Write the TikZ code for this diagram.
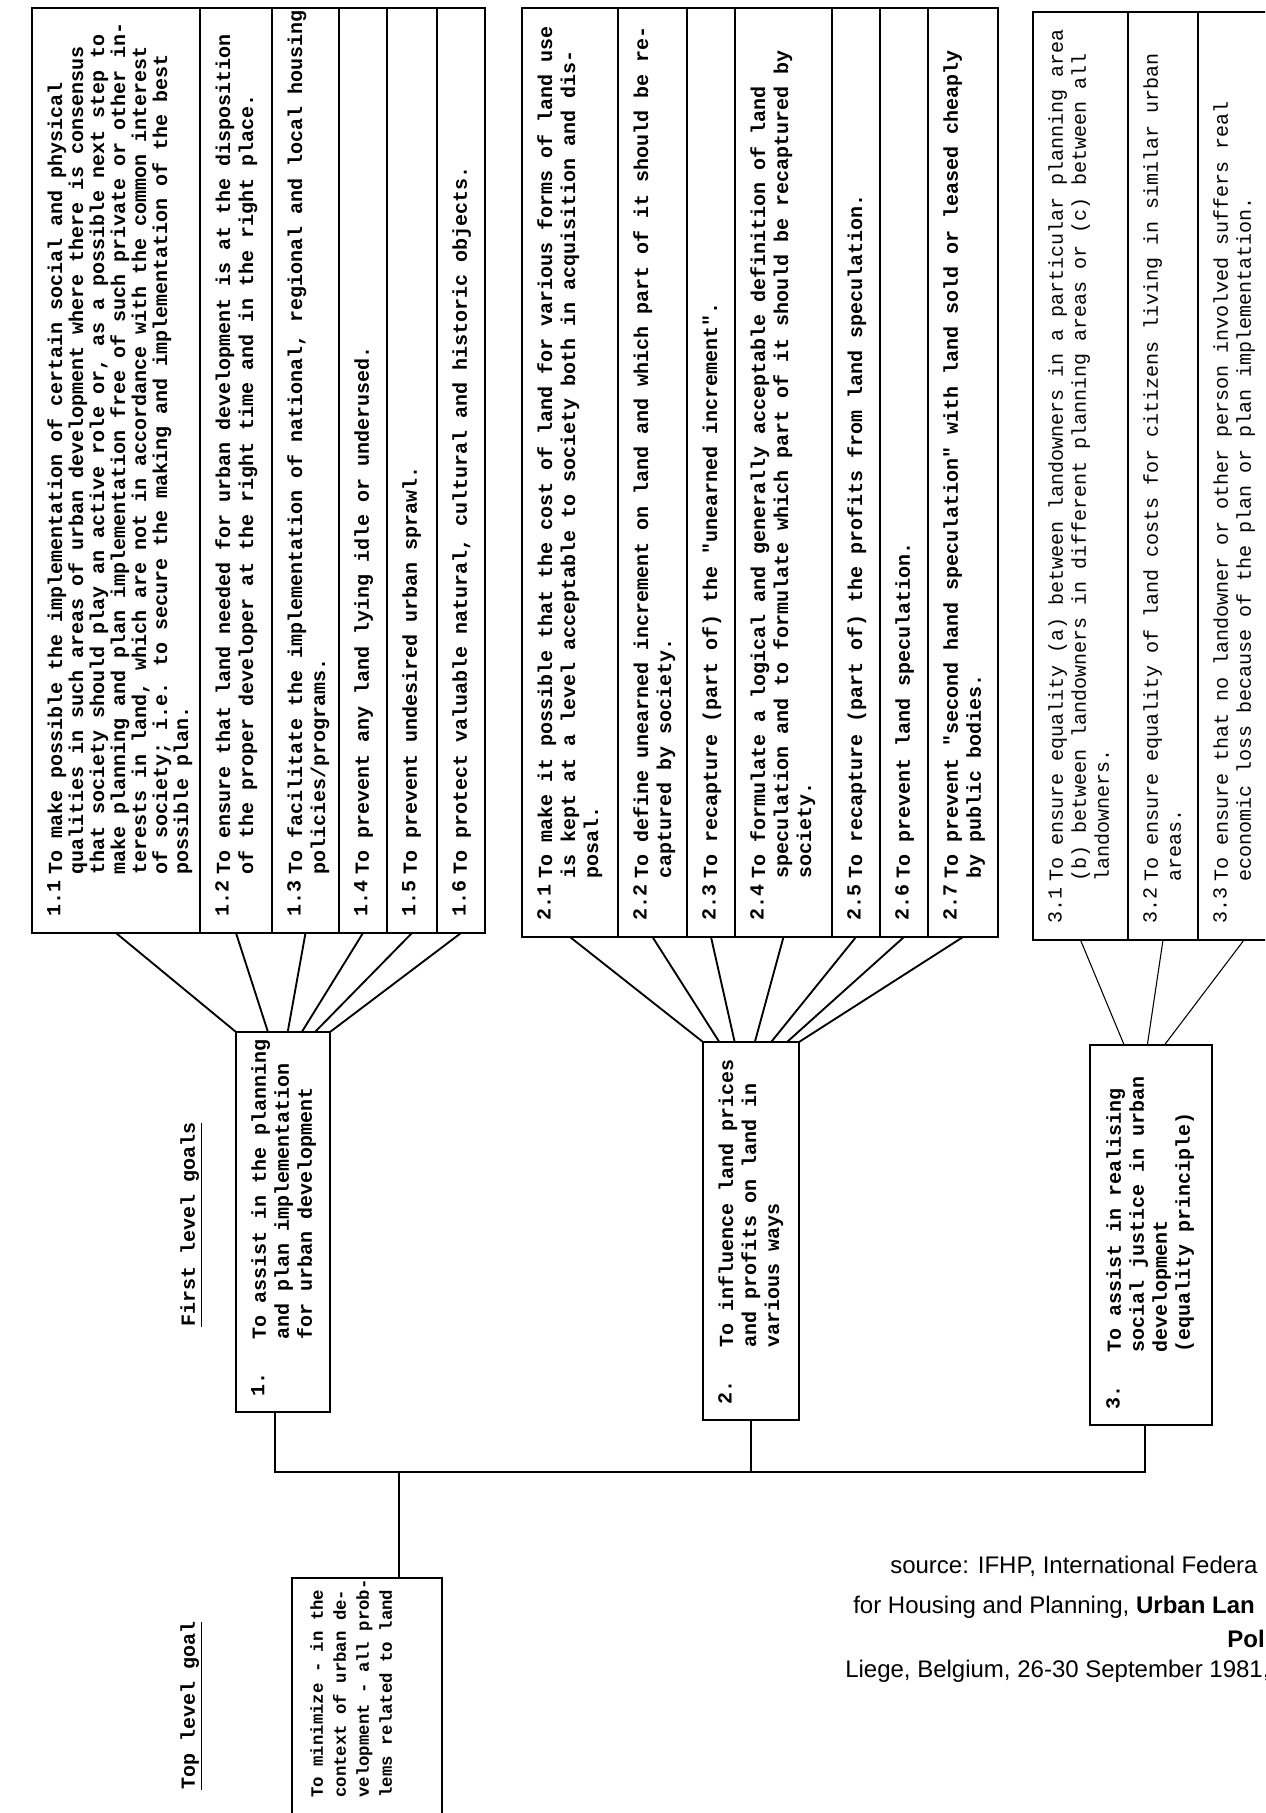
\documentclass[tikz,border=0pt]{standalone}
\usepackage{fontspec}
\setmainfont{Liberation Serif}
\newfontfamily\tw{Liberation Mono}
\newfontfamily\sans{Liberation Sans}
\usetikzlibrary{calc}
\def\gf{\bfseries}
\def\gls{17.25}
\newcommand\goalitem[7]{%
  \node[colbox, anchor=north west, minimum width={(#3-#2)*0.75pt}, minimum height={(#5-#4)*0.75pt}] (#1) at (#2,#4) {};
  \node[lbl] (#1l) at ({#2+15},{#5-16}) {#6};
  \node[txt] (#1t) at ({#2+15},{#5-58}) {#7};
}
\begin{document}
\begin{tikzpicture}[x=0.75pt,y=-0.75pt,
  colbox/.style={draw, line width=1.3pt, inner sep=0pt, outer sep=0pt},
  lbl/.style={rotate=90, anchor=north west, inner sep=0pt, font=\tw\gf\fontsize{15}{\gls}\selectfont},
  txt/.style={rotate=90, anchor=north west, inner sep=0pt, align=left, font=\tw\gf\fontsize{15}{\gls}\selectfont},
  toptxt/.style={rotate=90, anchor=north west, inner sep=0pt, align=left, font=\tw\bfseries\fontsize{13}{17.25}\selectfont},
  conn/.style={line width=1.4pt},
  thinconn/.style={line width=0.8pt},
  src/.style={anchor=base west, inner sep=0pt, font=\sans\fontsize{18}{20}\selectfont}
]
\useasboundingbox (0,0) rectangle (1265,1813);
\begin{scope}
\clip (0,0) rectangle (1265,1813);
% ---------- group 1 ----------
\def\gls{15.75}
\goalitem{c11}{32}{200}{8}{933}{1.1}{To make possible the implementation of certain social and physical\\
qualities in such areas of urban development where there is consensus\\
that society should play an active role or, as a possible next step to\\
make planning and plan implementation free of such private or other in-\\
terests in land, which are not in accordance with the common interest\\
of society; i.e. to secure the making and implementation of the best\\
possible plan.}
\def\gls{17.25}
\goalitem{c12}{200}{272}{8}{933}{1.2}{To ensure that land needed for urban development is at the disposition\\of the proper developer at the right time and in the right place.}
\goalitem{c13}{272}{339}{8}{933}{1.3}{To facilitate the implementation of national, regional and local housing\\policies/programs.}
\goalitem{c14}{339}{387}{8}{933}{1.4}{To prevent any land lying idle or underused.}
\goalitem{c15}{387}{437}{8}{933}{1.5}{To prevent undesired urban sprawl.}
\goalitem{c16}{437}{485}{8}{933}{1.6}{To protect valuable natural, cultural and historic objects.}
% ---------- group 2 ----------
\goalitem{c21}{522}{618}{8}{937}{2.1}{To make it possible that the cost of land for various forms of land use\\is kept at a level acceptable to society both in acquisition and dis-\\posal.}
\goalitem{c22}{618}{687}{8}{937}{2.2}{To define unearned increment on land and which part of it should be re-\\captured by society.}
\goalitem{c23}{687}{735}{8}{937}{2.3}{To recapture (part of) the "unearned increment".}
\goalitem{c24}{735}{832}{8}{937}{2.4}{To formulate a logical and generally acceptable definition of land\\speculation and to formulate which part of it should be recaptured by\\society.}
\goalitem{c25}{832}{880}{8}{937}{2.5}{To recapture (part of) the profits from land speculation.}
\goalitem{c26}{880}{928}{8}{937}{2.6}{To prevent land speculation.}
\goalitem{c27}{928}{998}{8}{937}{2.7}{To prevent "second hand speculation" with land sold or leased cheaply\\by public bodies.}
% ---------- group 3 ----------
\def\gf{\mdseries}
\goalitem{c31}{1033}{1128}{12}{940}{3.1}{To ensure equality (a) between landowners in a particular planning area\\(b) between landowners in different planning areas or (c) between all\\landowners.}
\goalitem{c32}{1128}{1198}{12}{940}{3.2}{To ensure equality of land costs for citizens living in similar urban\\areas.}
\goalitem{c33}{1198}{1290}{12}{940}{3.3}{To ensure that no landowner or other person involved suffers real\\economic loss because of the plan or plan implementation.}
\def\gf{\bfseries}
% ---------- first level ----------
\node[colbox, anchor=north west, minimum width={94*0.75pt}, minimum height={380*0.75pt}] (b1) at (236,1032) {};
\node[lbl] (b1l) at (251,1397) {1.};
\node[txt] (b1t) at (251,1340) {To assist in the planning\\and plan implementation\\for urban development};
\node[colbox, anchor=north west, minimum width={96*0.75pt}, minimum height={378*0.75pt}] (b2) at (703,1042) {};
\node[lbl] (b2l) at (718,1405) {2.};
\node[txt] (b2t) at (718,1348) {To influence land prices\\and profits on land in\\various ways};
\node[colbox, anchor=north west, minimum width={122*0.75pt}, minimum height={380*0.75pt}] (b3) at (1090,1045) {};
\node[lbl] (b3l) at (1106,1410) {3.};
\node[txt] (b3t) at (1106,1353) {To assist in realising\\social justice in urban\\development\\(equality principle)};
\node[lbl] (fl) at (180,1327) {\underline{First level goals}};
% ---------- top level ----------
\node[colbox, anchor=north west, minimum width={150*0.75pt}, minimum height={260*0.75pt}] (top) at (292,1578) {};
\node[toptxt] (topt) at (310,1798) {To minimize - in the\\context of urban de-\\velopment - all prob-\\lems related to land};
\node[lbl] (tl) at (180,1790) {\underline{Top level goal}};
% ---------- connectors group 1 ----------
\draw[conn] (c11.south) -- (b1.north west);
\draw[conn] (c12.south) -- ($(b1.north west)!0.34!(b1.north east)$);
\draw[conn] (c13.south) -- ($(b1.north west)!0.55!(b1.north east)$);
\draw[conn] (c14.south) -- ($(b1.north west)!0.70!(b1.north east)$);
\draw[conn] (c15.south) -- ($(b1.north west)!0.84!(b1.north east)$);
\draw[conn] (c16.south) -- (b1.north east);
% ---------- connectors group 2 ----------
\draw[conn] (c21.south) -- (b2.north west);
\draw[conn] (c22.south) -- ($(b2.north west)!0.17!(b2.north east)$);
\draw[conn] (c23.south) -- ($(b2.north west)!0.33!(b2.north east)$);
\draw[conn] (c24.south) -- ($(b2.north west)!0.54!(b2.north east)$);
\draw[conn] (c25.south) -- ($(b2.north west)!0.71!(b2.north east)$);
\draw[conn] (c26.south) -- ($(b2.north west)!0.875!(b2.north east)$);
\draw[conn] (c27.south) -- (b2.north east);
% ---------- connectors group 3 ----------
\draw[thinconn] (c31.south) -- ($(b3.north west)!0.28!(b3.north east)$);
\draw[thinconn] (c32.south) -- ($(b3.north west)!0.47!(b3.north east)$);
\draw[thinconn] (c33.south) -- ($(b3.north west)!0.61!(b3.north east)$);
% ---------- lower tree ----------
\coordinate (j1) at (275,1472);
\coordinate (j2) at (751,1472);
\coordinate (jt) at (399,1472);
\coordinate (j3) at (1145,1472);
\draw[conn] ([xshift=-6pt]b1.south) -- (j1) -- (j3) -- ([xshift=-4.5pt]b3.south);
\draw[conn] (b2.south) -- (j2);
\draw[conn] (jt) -- (top.north west -| jt);
% ---------- source ----------
\node[src] (s1) at (890,1573) {source: IFHP, International Federa};
\node[src] (s2) at (853,1613) {for Housing and Planning, \textbf{Urban Lan}};
\node[src, anchor=base east] (s3) at (1265,1647) {\textbf{Pol}};
\node[src] (s4) at (845,1677) {Liege, Belgium, 26-30 September 1981, p};
\end{scope}
\end{tikzpicture}
\end{document}
